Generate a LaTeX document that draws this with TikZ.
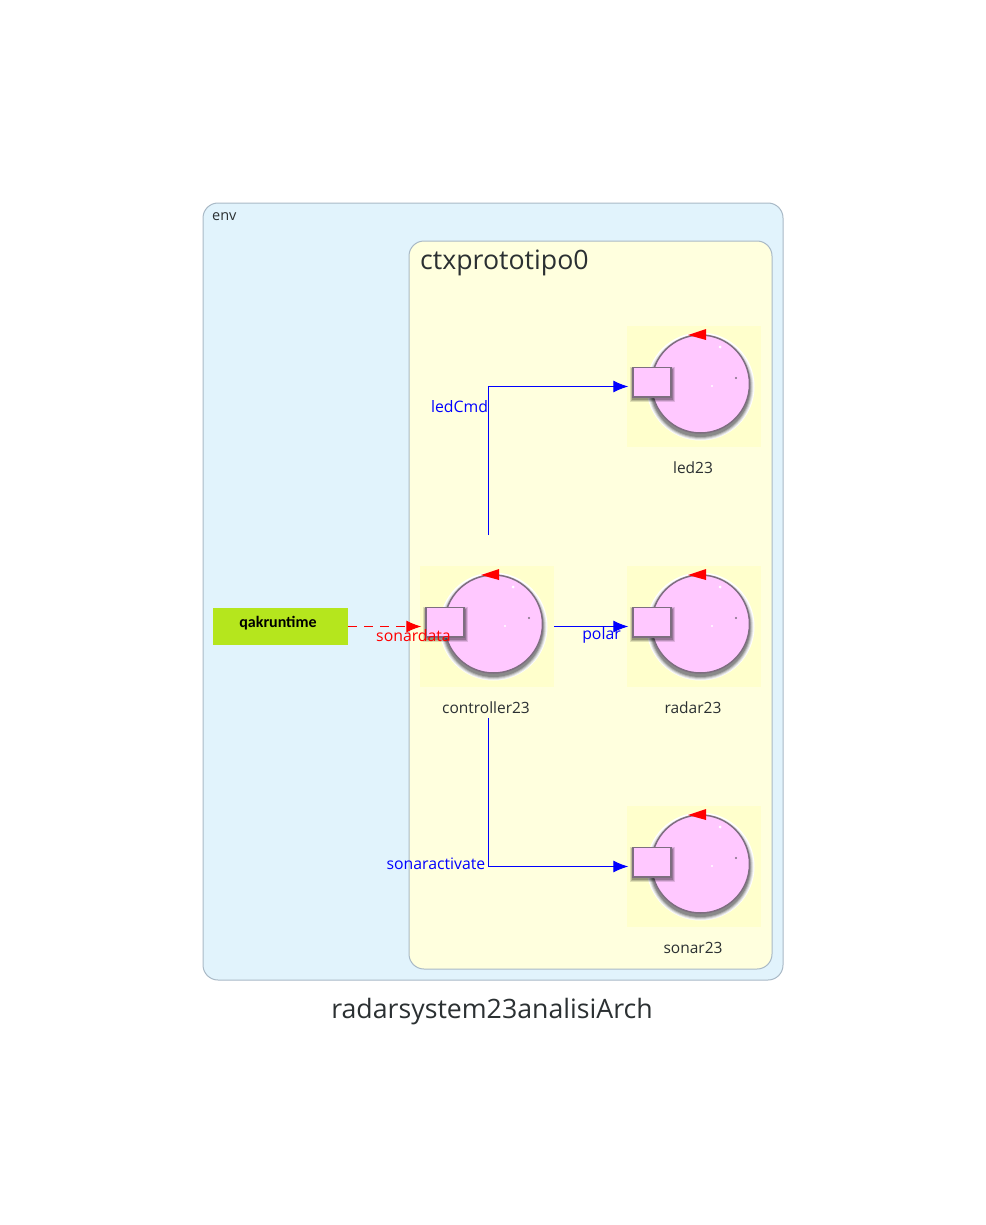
\documentclass[tikz,border=0pt]{standalone}
\usepackage{fontspec}
\usetikzlibrary{arrows.meta}
\setmainfont{Open Sans}
\newfontfamily\qakfont{Carlito}
\definecolor{envfill}{HTML}{E1F3FC}
\definecolor{ctxfill}{HTML}{FFFFDE}
\definecolor{boxline}{HTML}{A9B9C6}
\definecolor{iconback}{HTML}{FFFFCC}
\definecolor{actorpink}{HTML}{FFC8FF}
\definecolor{actorline}{HTML}{7E6E80}
\definecolor{qakgreen}{HTML}{B5E61D}
\definecolor{inktext}{HTML}{2B3032}
\tikzset{
  groupbox/.style={draw=boxline, line width=1pt, rounded corners=15pt},
  iconbox/.style={fill=iconback, minimum width=134pt, minimum height=121pt, inner sep=0pt},
  actorname/.style={text=inktext, font=\fontsize{15.5}{18}\selectfont},
  msglabel/.style={font=\fontsize{15.8}{18}\selectfont, inner sep=0pt},
  msgline/.style={-{Latex[length=15pt,width=12pt]}, shorten >=-1.5pt, blue, line width=1pt},
  actorbody/.pic={
    % soft shadow under the disc and the small box
    \fill[white] (6.5,0) circle (54pt);
    \foreach \r/\o in {53/0.08, 52/0.12, 51/0.16, 50/0.2}
      \fill[black, opacity=\o] (6.5,0.5) circle (\r pt);
    \draw[actorline, fill=actorpink, line width=1.5pt] (6.5,-2.5) circle (49pt);
    \foreach \g/\o in {3/0.12, 2/0.16, 1/0.2}
      \fill[black, opacity=\o] (-61-\g,-19-\g+2) rectangle (-23+\g+1,10.5+\g+2);
    \draw[actorline, fill=actorpink, line width=1.5pt] (-61,-19) rectangle (-23,10.5);
    \fill[red] (-6,-51.5) -- (12,-57.5) -- (12,-46.5) -- cycle;
    \fill[white] (26,-39.5) circle (1.5pt);
    \fill[white] (18,-0.5) circle (1.2pt);
    \fill[actorline] (42,-8.5) circle (1.2pt);
  }
}
\begin{document}
\begin{tikzpicture}[x=1pt, y=-1pt]
    \useasboundingbox (0,0) rectangle (985,1225);

    % Contenitori
    \draw[groupbox, fill=envfill] (203,203) rectangle (783,980);
    \draw[groupbox, fill=ctxfill] (409,241) rectangle (772,969);
    \node[anchor=west, inner sep=0pt, text=inktext, font=\fontsize{14.5}{16}\selectfont] (envtitle) at (212,216.5) {env};
    \node[anchor=west, inner sep=0pt, text=inktext, font=\fontsize{26.7}{32}\selectfont] (ctxtitle) at (420,262.5) {ctxprototipo0};
    \node[inner sep=0pt, text=inktext, font=\fontsize{26.7}{32}\selectfont] (archtitle) at (492,1012) {radarsystem23analisiArch};

    % Attori: nome / centro
    \foreach \name/\cx/\cy in {led23/694/386.5, controller23/487/626.5, radar23/694/626.5, sonar23/694/866.5} {
        \node[iconbox] (\name) at (\cx,\cy) {};
        \pic at (\cx,\cy) {actorbody};
        \node[actorname] (\name label) at (\cx-1,\cy+81) {\name};
    }

    \node[fill=qakgreen, minimum width=135pt, minimum height=37pt, inner sep=0pt] (qakruntime) at (280.5,626.5) {};
    \node[font=\qakfont\bfseries\fontsize{16}{19}\selectfont, inner sep=0pt] (qaktext) at (278,623) {qakruntime};

    % Estremi liberi delle frecce del controller
    \coordinate (ctrlup) at (488.5,535);
    \coordinate (ctrldown) at (488.5,718);

    \draw[msgline] (ctrlup) |- (led23.west);
    \draw[msgline] (ctrldown) |- (sonar23.west);
    \draw[msgline] (controller23.east) -- (radar23.west);
    \draw[msgline, red, dash pattern=on 9pt off 7pt] (qakruntime.east) -- (controller23.west);

    \node[msglabel, blue] (ledcmd) at (459.5,406.5) {ledCmd};
    \node[msglabel, blue] (sonaractivate) at (436,863.5) {sonaractivate};
    \node[msglabel, blue] (polar) at (601.5,635.5) {polar};
    \node[msglabel, red] (sonardata) at (413.5,635.5) {sonardata};
\end{tikzpicture}
\end{document}
